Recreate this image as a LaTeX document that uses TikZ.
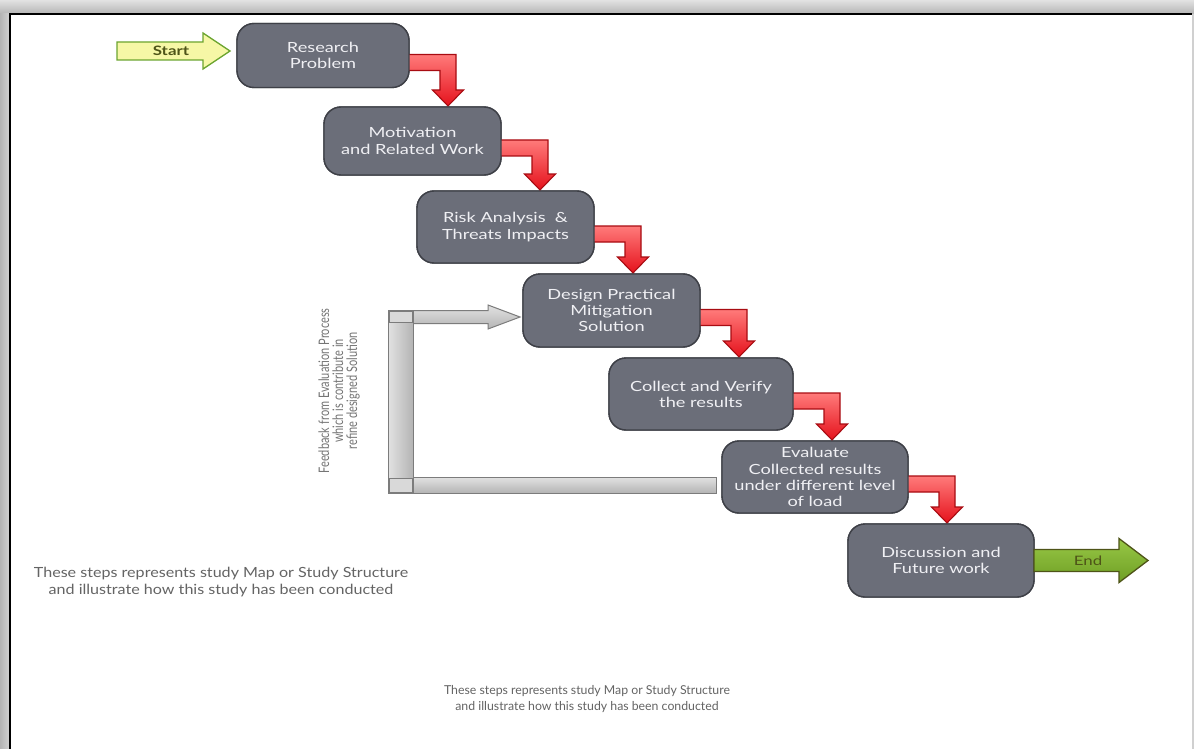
\documentclass[tikz,border=0pt]{standalone}
\usepackage{fontspec}
\setmainfont{Lato}
\newfontfamily\boxfont[FakeStretch=1.3]{Lato}
\newfontfamily\notefont[FakeStretch=1.15]{Lato}
\newfontfamily\condfont[FakeStretch=0.76]{Lato}
\usetikzlibrary{calc}

\definecolor{boxfill}{HTML}{6B6E79}
\definecolor{boxline}{HTML}{3E4047}
\definecolor{boxtext}{HTML}{F0F0F4}
\definecolor{redlight}{HTML}{FF7A7A}
\definecolor{reddeep}{HTML}{E5121C}
\definecolor{redline}{HTML}{A80C12}
\definecolor{startfill}{HTML}{F6F7A6}
\definecolor{startline}{HTML}{6CA530}
\definecolor{olive}{HTML}{4E5418}
\definecolor{greenlight}{HTML}{98C846}
\definecolor{greendeep}{HTML}{6E9E24}
\definecolor{greyline}{HTML}{7C7C7C}
\definecolor{greylight}{HTML}{E2E2E2}
\definecolor{greydeep}{HTML}{B4B4B4}
\definecolor{notetext}{HTML}{646464}

\tikzset{
  stepbox/.style={draw=boxline, line width=1.4pt, fill=boxfill, rounded corners=17pt,
    text=boxtext, font=\boxfont\fontsize{14}{16.2}\selectfont, align=center,
    inner sep=0pt, outer sep=0pt},
  steplabel/.style={stepbox, draw=none, fill=none},
  redturn/.style={draw=redline, line width=1.1pt, top color=redlight, bottom color=reddeep,
    line join=miter},
  greybar/.style={draw=greyline, line width=1pt, left color=greylight, right color=greydeep},
  greyflat/.style={draw=greyline, line width=1pt, top color=greylight, bottom color=greydeep},
  note/.style={text=notetext, align=center, inner sep=0pt},
}

% elbow connector from the east side of one step down onto the next step
\newcommand\stepturn[2]{%
  \path[redturn] let \p1=(#1.east), \p2=(#2.north) in
    (\x1-4pt,\y1+1pt) -- (\x1+47pt,\y1+1pt) -- (\x1+47pt,\y2+17pt)
    -- (\x1+54.5pt,\y2+17pt) -- (\x1+39pt,\y2+1pt) -- (\x1+23.5pt,\y2+17pt)
    -- (\x1+31pt,\y2+17pt) -- (\x1+31pt,\y1-15pt) -- (\x1-4pt,\y1-15pt) -- cycle;
}

\begin{document}
\begin{tikzpicture}[x=1pt,y=-1pt]
\useasboundingbox (0,0) rectangle (1194,749);

% page frame
\shade[top color=greylight, bottom color=greydeep] (0,0) rectangle (1194,14);
\shade[left color=greydeep, right color=greylight!70!greydeep] (0,14) rectangle (10,749);
\fill[white] (11,15) rectangle (1192,749);
\fill[greylight!60!greydeep] (1192,14) rectangle (1194,749);
\draw[black, line width=2pt] (10,749) -- (10,14) -- (1192,14);

% process steps (placed first so the connectors can refer to them)
\node[stepbox, minimum width=172, minimum height=64] (b1) at (323,55.5) {};
\node[stepbox, minimum width=177, minimum height=68] (b2) at (412.5,141) {};
\node[stepbox, minimum width=177, minimum height=72] (b3) at (505.5,227) {};
\node[stepbox, minimum width=177, minimum height=73] (b4) at (611.5,310.5) {};
\node[stepbox, minimum width=184, minimum height=72] (b5) at (701,394) {};
\node[stepbox, minimum width=186, minimum height=72] (b6) at (815,477) {};
\node[stepbox, minimum width=186, minimum height=73] (b7) at (941,560.5) {};

% red elbow connectors
\stepturn{b1}{b2}
\stepturn{b2}{b3}
\stepturn{b3}{b4}
\stepturn{b4}{b5}
\stepturn{b5}{b6}
\stepturn{b6}{b7}

% step bodies over the connector tails, then their texts
\foreach \b in {b1,b2,b3,b4,b5,b6,b7}{
  \path[draw=boxline, line width=1.4pt, fill=boxfill, rounded corners=17pt]
    (\b.south west) rectangle (\b.north east);
}
\node[steplabel] (t1) at (b1) {Research\\Problem};
\node[steplabel] (t2) at (b2) {Motivation\\and Related Work};
\node[steplabel] (t3) at (b3) {Risk Analysis~~\&\\Threats Impacts};
\node[steplabel] (t4) at (b4) {Design Practical\\Mitigation\\Solution};
\node[steplabel] (t5) at (b5) {Collect and Verify\\the results};
\node[steplabel] (t6) at (b6) {Evaluate\\Collected results\\under different level\\of load};
\node[steplabel] (t7) at (b7) {Discussion and\\Future work};

% start arrow
\coordinate (starttip) at ($(b1.west)+(-7,-4.5)$);
\path[draw=startline, line width=1.3pt, fill=startfill]
  (starttip) -- ++(-27,-18) -- ++(0,9) -- ++(-86,0) -- ++(0,18) -- ++(86,0) -- ++(0,9) -- cycle;
\node[text=olive, font=\boxfont\bfseries\fontsize{13}{14}\selectfont] (startlbl) at ($(starttip)+(-59,0)$) {Start};

% end arrow
\coordinate (endtail) at (b7.east);
\path[draw=olive, line width=1.3pt, top color=greenlight, bottom color=greendeep]
  ($(endtail)+(0,-11)$) -- ++(85,0) -- ++(0,-11) -- ++(29,22) -- ++(-29,22) -- ++(0,-11) -- ++(-85,0) -- cycle;
\node[text=olive, font=\boxfont\fontsize{13}{14}\selectfont] (endlbl) at ($(endtail)+(54,0)$) {End};

% feedback loop from the evaluation back to the design step
\coordinate (fbtip) at ($(b4.west)+(-3,6.5)$);
\coordinate (fbend) at ($(b6.west)+(-6,8)$);
\path[greyflat] let \p1=(fbtip), \p2=(fbend) in
  (413,\y2+8pt) rectangle (\x2,\y2-8pt);
\path[greyflat] let \p1=(fbtip) in
  (413,\y1+6.5pt) -- (\x1-32pt,\y1+6.5pt) -- (\x1-32pt,\y1+12pt) -- (\p1)
  -- (\x1-32pt,\y1-12pt) -- (\x1-32pt,\y1-6.5pt) -- (413,\y1-6.5pt) -- cycle;
\path[greybar] let \p1=(fbtip), \p2=(fbend) in
  (388,\y1+6.5pt) rectangle (413,\y2-8pt);
\path[draw=greyline, line width=0.6pt, fill=greylight!80!greydeep] let \p1=(fbtip) in
  (389,\y1+6pt) rectangle (412,\y1-5pt);
\path[draw=greyline, line width=0.6pt, fill=greylight!80!greydeep] let \p2=(fbend) in
  (389,\y2+7pt) rectangle (412,\y2-7pt);
\node[note, rotate=90, font=\condfont\fontsize{14.5}{14}\selectfont, text=notetext!90!white]
  (fbnote) at (339,391) {Feedback from Evaluation Process\\which is contribute in\\refine designed Solution};

% notes
\node[note, font=\notefont\fontsize{14}{17}\selectfont] (note1) at (221,582.5)
  {These steps represents study Map or Study Structure\\and illustrate how this study has been conducted};
\node[note, font=\fontsize{12.3}{16}\selectfont] (note2) at (587,699)
  {These steps represents study Map or Study Structure\\and illustrate how this study has been conducted};
\end{tikzpicture}
\end{document}
